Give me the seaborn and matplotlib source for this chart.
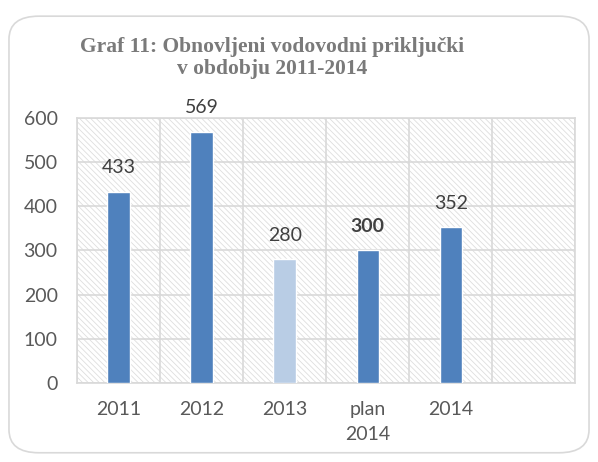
import matplotlib
matplotlib.use("Agg")
import matplotlib.pyplot as plt
import seaborn as sns
from matplotlib.patches import Rectangle, FancyBboxPatch

# podatki
kategorije = ["2011", "2012", "2013", "plan\n2014", "2014"]
vrednosti = [433, 569, 280, 300, 352]
barve = ["#4f81bd", "#4f81bd", "#b9cde5", "#4f81bd", "#4f81bd"]
krepke_oznake = [False, False, False, True, False]
y_ticks = [0, 100, 200, 300, 400, 500, 600]
naslov = "Graf 11: Obnovljeni vodovodni priključki\nv obdobju 2011-2014"

sns.set_style("white")
plt.rcParams["font.family"] = ["Lato", "DejaVu Sans"]
plt.rcParams["hatch.color"] = "#dedede"
plt.rcParams["hatch.linewidth"] = 0.6

fig = plt.figure(figsize=(5.98, 4.62), dpi=100)
ax = fig.add_axes([0.129, 0.171, 0.833, 0.574])

# zaobljen okvir grafa
fig.patches.append(FancyBboxPatch((0.015, 0.02), 0.97, 0.945, boxstyle="round,pad=0,rounding_size=0.05",
                                  transform=fig.transFigure, facecolor="none",
                                  edgecolor="#d9d9d9", linewidth=1.2))

# šrafirano ozadje
ax.add_patch(Rectangle((0, 0), 1, 1, transform=ax.transAxes, facecolor="white",
                       edgecolor="#dedede", hatch="\\\\\\\\\\\\", linewidth=0, zorder=0))

sns.barplot(x=kategorije, y=vrednosti, hue=kategorije, palette=barve, legend=False,
            width=0.27, ax=ax, zorder=3, saturation=1)

ax.set_xlim(-0.5, 5.5)
ax.set_ylim(0, 600)
ax.set_yticks(y_ticks)
ax.set_xticks(range(6))
ax.set_xticklabels(kategorije + [""], linespacing=1.55)
ax.set_xticks([i - 0.5 for i in range(7)], minor=True)
ax.grid(True, which="minor", axis="x", color="#d9d9d9", linewidth=1.2, zorder=1)
ax.grid(True, which="major", axis="y", color="#d9d9d9", linewidth=1.2, zorder=1)
ax.set_axisbelow(True)
for s in ax.spines.values():
    s.set_color("#d9d9d9")
    s.set_linewidth(1.2)
ax.tick_params(axis="both", which="both", length=0, labelsize=14, colors="#595959")
ax.tick_params(axis="x", pad=13)
ax.tick_params(axis="y", pad=14)

for i, v in enumerate(vrednosti):
    ax.annotate(str(v), (i, v), xytext=(0, 11), textcoords="offset points", ha="center",
                va="bottom", fontsize=14, color="#404040",
                fontweight="bold" if krepke_oznake[i] else "normal")

fig.text(0.455, 0.875, naslov, ha="center", va="center", fontsize=15.5, fontweight="bold",
         color="#7a7a7a", family=["Liberation Serif", "DejaVu Serif"], linespacing=1.15)

fig.savefig("out.png", dpi=100)
